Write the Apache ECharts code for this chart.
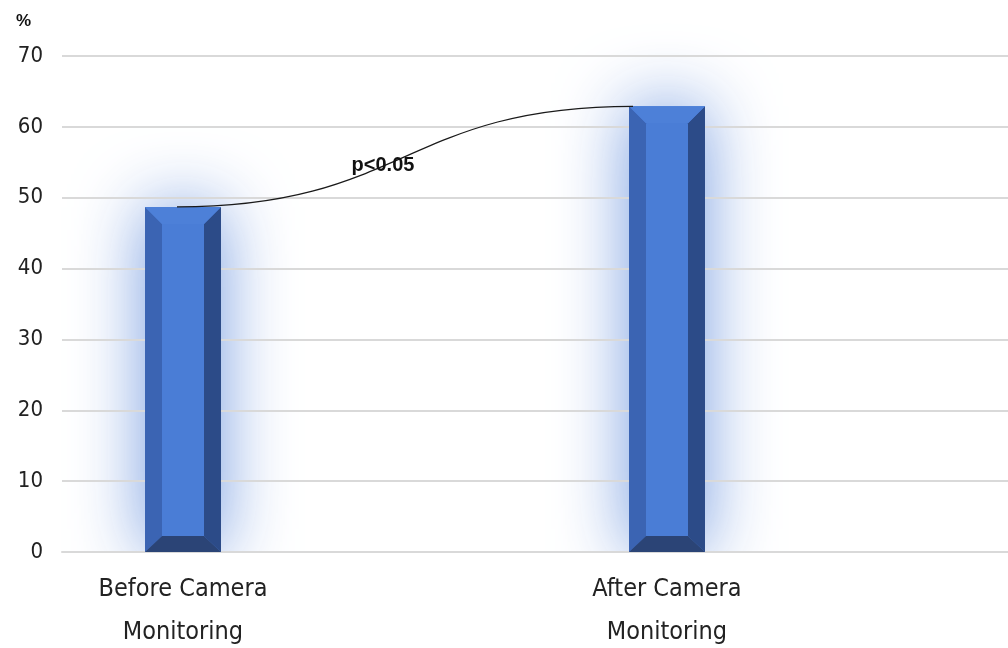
<!DOCTYPE html>
<html>
<head>
<meta charset="utf-8">
<script src="https://cdn.jsdelivr.net/npm/echarts@6/dist/echarts.min.js"></script>
<style>
  html, body { margin: 0; padding: 0; background: #fff; }
  #chart { width: 1008px; height: 648px; }
</style>
</head>
<body>
<div id="chart"></div>
<script>
// categories (empty slots keep the spacing of the original layout)
const categories = ['Before Camera\nMonitoring', '', 'After Camera\nMonitoring', '']
// percentages
const barValues = [[0, 48.7], [2, 62.9]]
const yTicks = { min: 0, max: 70, interval: 10 }
const pValueLabel = 'p<0.05'
const unitLabel = '%'

const labelFont = '"DejaVu Sans Condensed", "Liberation Sans Narrow", sans-serif'
const BAR_W = 76

const chart = echarts.init(document.getElementById('chart'))

// soft blue halo behind each bar (kept under the grid lines)
function renderGlow(params, api) {
  const top = api.coord([api.value(0), api.value(1)])
  const base = api.coord([api.value(0), 0])
  const x0 = top[0] - BAR_W / 2
  return {
    type: 'rect',
    shape: { x: x0, y: top[1], width: BAR_W, height: base[1] - top[1] },
    style: { fill: '#9db6e3', shadowBlur: 70, shadowColor: 'rgba(110,150,222,0.95)' },
    clipPath: {
      type: 'rect',
      shape: { x: x0 - 150, y: top[1] - 150, width: BAR_W + 300, height: base[1] - top[1] + 150 }
    }
  }
}

// bevelled bar
function renderBar(params, api) {
  const top = api.coord([api.value(0), api.value(1)])
  const base = api.coord([api.value(0), 0])
  const w = BAR_W
  const b = 17 // side bevel
  const bb = 16 // bottom bevel
  const x0 = top[0] - w / 2
  const x1 = top[0] + w / 2
  const yt = top[1]
  const yb = base[1]
  return {
    type: 'group',
    children: [
      {
        type: 'rect',
        shape: { x: x0, y: yt, width: w, height: yb - yt },
        style: { fill: '#4a7dd6' }
      },
      {
        type: 'polygon',
        shape: { points: [[x0, yt], [x0 + b, yt + b], [x0 + b, yb - bb], [x0, yb]] },
        style: { fill: '#3b64b3' }
      },
      {
        type: 'polygon',
        shape: { points: [[x1, yt], [x1 - b, yt + b], [x1 - b, yb - bb], [x1, yb]] },
        style: { fill: '#2c4b88' }
      },
      {
        type: 'polygon',
        shape: { points: [[x0, yb], [x0 + b, yb - bb], [x1 - b, yb - bb], [x1, yb]] },
        style: { fill: '#2b4476' }
      },
      {
        type: 'polygon',
        shape: { points: [[x0, yt], [x1, yt], [x1 - b, yt + b], [x0 + b, yt + b]] },
        style: { fill: '#4d80d8' }
      }
    ]
  }
}

// S-shaped connector between the two bar tops with the p-value
function renderCurve(params, api) {
  const a = api.coord([api.value(0), api.value(1)])
  const c = api.coord([api.value(2), api.value(3)])
  const sx = a[0] - 6
  const ex = c[0] - 34
  const mx = (sx + ex) / 2
  const my = (a[1] + c[1]) / 2
  return {
    type: 'group',
    children: [
      {
        type: 'bezierCurve',
        shape: {
          x1: sx, y1: a[1],
          cpx1: mx, cpy1: a[1],
          cpx2: mx, cpy2: c[1],
          x2: ex, y2: c[1]
        },
        style: { stroke: '#1a1a1a', lineWidth: 1.2, fill: null }
      },
      {
        type: 'text',
        x: mx - 22,
        y: my + 9,
        style: {
          text: pValueLabel,
          fill: '#111',
          font: 'bold 20px "Liberation Sans", Arial, sans-serif',
          align: 'center',
          verticalAlign: 'middle'
        }
      }
    ]
  }
}

const option = {
  backgroundColor: '#fff',
  animation: false,
  title: {
    text: unitLabel,
    left: 11,
    top: 8,
    textStyle: { fontSize: 17, fontWeight: 'bold', color: '#111', fontFamily: 'Liberation Sans' }
  },
  grid: { left: 62, right: -22, top: 56, bottom: 96, containLabel: false, outerBoundsMode: 'none' },
  xAxis: {
    type: 'category',
    data: categories,
    axisTick: { show: false },
    axisLine: { show: true, lineStyle: { color: '#d9d9d9', width: 2 } },
    axisLabel: {
      interval: 0,
      margin: 16,
      lineHeight: 43,
      fontSize: 25,
      color: '#222',
      fontFamily: labelFont
    }
  },
  yAxis: {
    type: 'value',
    min: yTicks.min,
    max: yTicks.max,
    interval: yTicks.interval,
    axisLine: { show: false },
    axisTick: { show: false },
    splitLine: { lineStyle: { color: '#d9d9d9', width: 2 } },
    axisLabel: {
      margin: 19,
      fontSize: 22,
      color: '#222',
      fontFamily: labelFont
    }
  },
  series: [
    {
      type: 'custom',
      renderItem: renderGlow,
      data: barValues,
      encode: { x: 0, y: 1 },
      z: -1,
      silent: true
    },
    {
      type: 'custom',
      renderItem: renderBar,
      data: barValues,
      encode: { x: 0, y: 1 },
      z: 3
    },
    {
      type: 'custom',
      renderItem: renderCurve,
      data: [[barValues[0][0], barValues[0][1], barValues[1][0], barValues[1][1]]],
      encode: { x: [0, 2], y: [1, 3] },
      z: 4
    }
  ]
}

chart.setOption(option)
</script>
</body>
</html>
